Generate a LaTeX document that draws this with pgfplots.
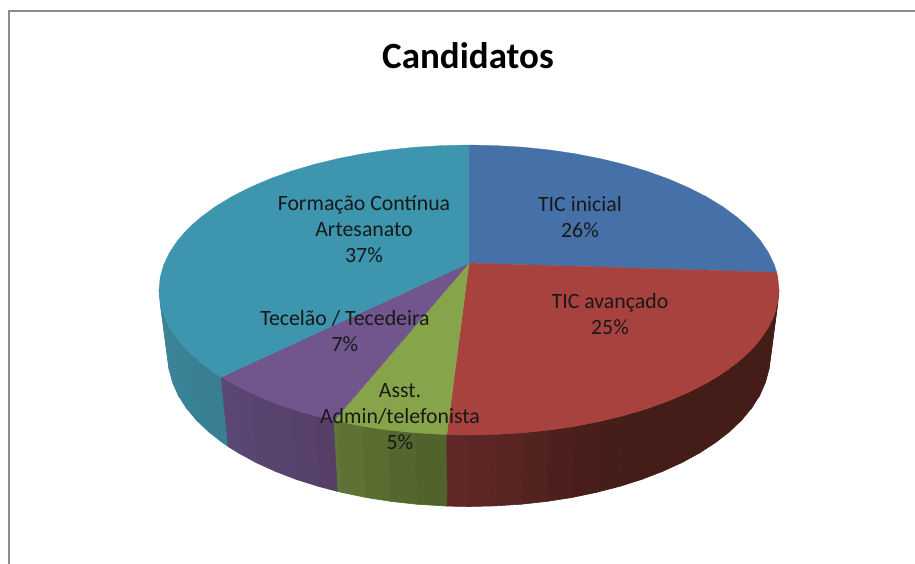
\documentclass[border=0pt]{standalone}
\usepackage{fontspec}
\setmainfont{Carlito}
\usepackage{pgfplots}
\pgfplotsset{compat=1.18}
\definecolor{cblue}{RGB}{70,113,168}
\definecolor{cred}{RGB}{168,66,63}
\definecolor{cgreen}{RGB}{134,164,74}
\definecolor{cpurple}{RGB}{112,86,140}
\definecolor{cteal}{RGB}{61,150,174}
\definecolor{cframe}{RGB}{140,140,140}
\pgfplotsset{
  colormap={sred}{rgb255=(96,40,38) rgb255=(68,28,24)},
  colormap={sgreen}{rgb255=(96,118,54) rgb255=(80,96,42)},
  colormap={spurple}{rgb255=(92,72,118) rgb255=(84,62,102)},
  colormap={steal}{rgb255=(60,134,154) rgb255=(54,124,144)},
  side/.style={surf,shader=faceted,faceted color=mapped color,line width=.6pt,mesh/rows=2,point meta=explicit,point meta min=0,point meta max=1}
}
\tikzset{lab/.style={align=center,font=\fontsize{21.8}{26}\selectfont,text=black!90}}
\begin{document}
\begin{tikzpicture}
\begin{axis}[
  scale only axis,width=915pt,height=564pt,
  xmin=0,xmax=915,ymin=0,ymax=564,y dir=reverse,
  hide axis,clip=true
]
% background
\addplot[fill=white,draw=none] coordinates {(0,0)(915,0)(915,564)(0,564)(0,0)};
% frame
\addplot[cframe,line width=2.2pt] coordinates {(9,564)(9,11)(915,11)};
% side walls
\addplot[side,colormap name=steal] table[x=x,y=y,meta=m] {
x y m
159 290 0
160.2 302.6 .1
163.7 315.2 .2
169.6 327.5 .3
177.7 339.6 .4
188 351.3 .5
200.5 362.5 .6
215.1 373.2 .7
221.1 377.1 .6
168 356.5 0
169.1 369.6 .1
172.6 382.5 .2
178.3 395.3 .3
186.2 407.8 .4
196.2 419.9 .5
208.3 431.5 .6
222.4 442.5 .7
228.3 446.6 .6
};
\addplot[side,colormap name=spurple] table[x=x,y=y,meta=m] {
x y m
221.1 377.1 0
231.5 383.2 .15
249.8 392.5 .3
269.7 401.1 .45
291.2 408.8 .6
314 415.6 .8
334.1 420.5 1
228.3 446.6 0
238.4 452.9 .15
256.2 462.6 .3
275.5 471.4 .45
296.3 479.4 .6
318.5 486.4 .8
338 491.5 1
};
\addplot[side,colormap name=sgreen] table[x=x,y=y,meta=m] {
x y m
334.1 420.5 0
338 421.4 .03
363 426.3 .3
388.8 430.1 .55
415.2 432.8 .8
446.8 434.6 1
338 491.5 0
341.8 492.4 .03
366.1 497.5 .3
391.1 501.4 .55
416.7 504.2 .8
447.5 506.1 1
};
\addplot[side,colormap name=sred] table[x=x,y=y,meta=m] {
x y m
446.8 434.6 0
469 435 .1
496 434.4 .2
522.8 432.8 .35
549.2 430.1 .55
575 426.3 .75
600 421.4 .9
624 415.6 1
646.8 408.8 1
668.3 401.1 1
688.2 392.5 1
706.5 383.2 1
722.9 373.2 1
737.5 362.5 1
750 351.3 1
760.3 339.6 1
768.4 327.5 1
774.3 315.2 1
777.8 302.6 1
779 290 1
447.5 506.1 0
469 506.5 .1
495.2 505.9 .2
521.3 504.2 .35
546.9 501.4 .55
571.9 497.5 .75
596.2 492.4 .9
619.5 486.4 1
641.7 479.4 1
662.5 471.4 1
681.8 462.6 1
699.6 452.9 1
715.6 442.5 1
729.7 431.5 1
741.8 419.9 1
751.8 407.8 1
759.7 395.3 1
765.4 382.5 1
768.9 369.6 1
770 356.5 1
};
% top faces
\addplot[fill=cblue,draw=cblue,line width=.3pt] coordinates {(469,263)(469,145)(496,145.6)(522.8,147.2)(549.2,149.9)(575,153.7)(600,158.6)(624,164.4)(646.8,171.2)(668.3,178.9)(688.2,187.5)(706.5,196.8)(722.9,206.8)(737.5,217.5)(750,228.7)(760.3,240.4)(768.4,252.5)(774.3,264.8)(776.7,272.3)(469,263)};
\addplot[fill=cred,draw=cred,line width=.3pt] coordinates {(469,263)(776.7,272.3)(777.8,277.4)(779,290)(777.8,302.6)(774.3,315.2)(768.4,327.5)(760.3,339.6)(750,351.3)(737.5,362.5)(722.9,373.2)(706.5,383.2)(688.2,392.5)(668.3,401.1)(646.8,408.8)(624,415.6)(600,421.4)(575,426.3)(549.2,430.1)(522.8,432.8)(496,434.4)(469,435)(446.8,434.6)(469,263)};
\addplot[fill=cgreen,draw=cgreen,line width=.3pt] coordinates {(469,263)(446.8,434.6)(415.2,432.8)(388.8,430.1)(363,426.3)(338,421.4)(334.1,420.5)(469,263)};
\addplot[fill=cpurple,draw=cpurple,line width=.3pt] coordinates {(469,263)(334.1,420.5)(314,415.6)(291.2,408.8)(269.7,401.1)(249.8,392.5)(231.5,383.2)(221.1,377.1)(469,263)};
\addplot[fill=cteal,draw=cteal,line width=.3pt] coordinates {(469,263)(221.1,377.1)(215.1,373.2)(200.5,362.5)(188,351.3)(177.7,339.6)(169.6,327.5)(163.7,315.2)(160.2,302.6)(159,290)(160.2,277.4)(163.7,264.8)(169.6,252.5)(177.7,240.4)(188,228.7)(200.5,217.5)(215.1,206.8)(231.5,196.8)(249.8,187.5)(269.7,178.9)(291.2,171.2)(314,164.4)(338,158.6)(363,153.7)(388.8,149.9)(415.2,147.2)(442,145.6)(469,145)(469,263)};
% labels
\node[font=\fontsize{37}{42}\selectfont\bfseries] at (axis cs:468,56) {Candidatos};
\node[lab] at (axis cs:580,217) {TIC inicial\\26\%};
\node[lab] at (axis cs:610,314.5) {TIC avançado\\25\%};
\node[lab] at (axis cs:364,229) {Formação Contínua\\Artesanato\\37\%};
\node[lab] at (axis cs:345,331) {Tecelão / Tecedeira\\7\%};
\node[lab] at (axis cs:400,416.5) {Asst.\\Admin/telefonista\\5\%};
\end{axis}
\end{tikzpicture}
\end{document}
